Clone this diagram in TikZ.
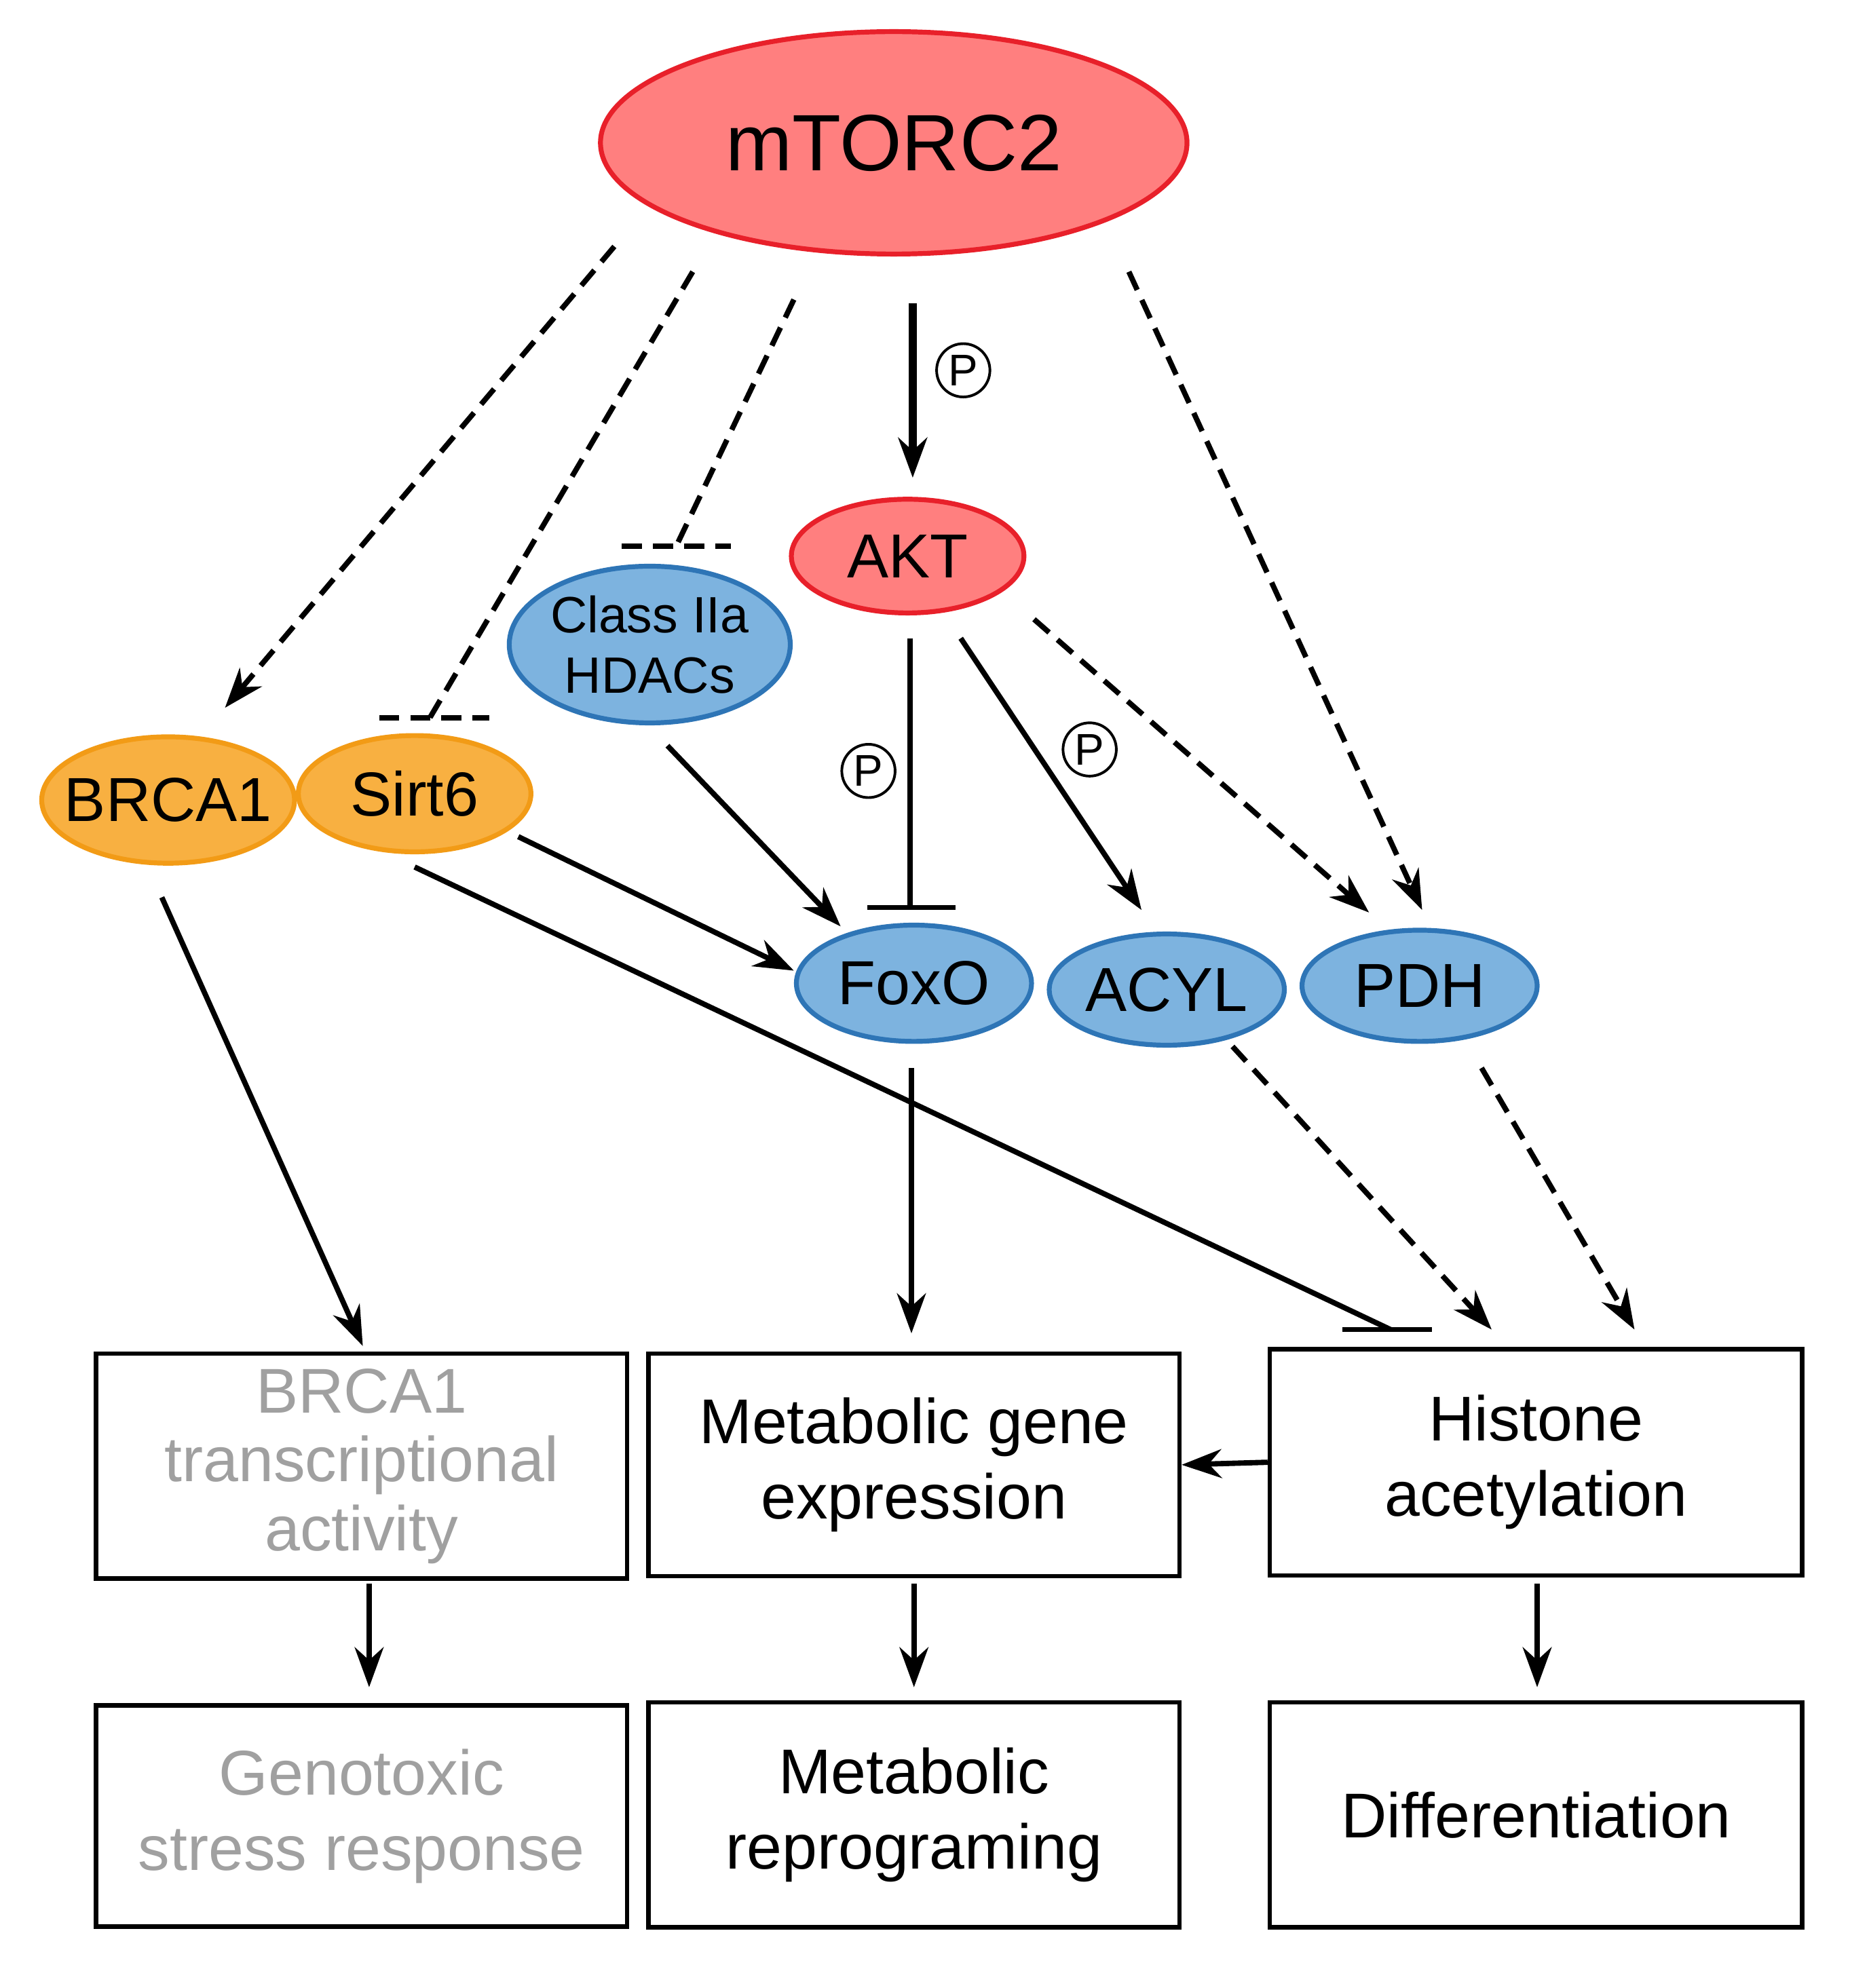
\documentclass[tikz,border=0pt]{standalone}
\usepackage{fontspec}
\setmainfont{Liberation Sans}
\usetikzlibrary{arrows.meta,shapes.geometric}
\definecolor{rfill}{HTML}{FF7F7F}\definecolor{rline}{HTML}{E8202A}
\definecolor{bfill}{HTML}{7DB3DF}\definecolor{bline}{HTML}{2E75B6}
\definecolor{ofill}{HTML}{F8B041}\definecolor{oline}{HTML}{F29B16}
\definecolor{gtxt}{HTML}{A0A0A0}
\begin{document}
\begin{tikzpicture}[x=0.02cm,y=-0.02cm,
 el/.style={ellipse,draw,line width=2.2pt,inner sep=0pt,font=\fontsize{28}{32}\selectfont},
 red/.style={el,fill=rfill,draw=rline},
 blu/.style={el,fill=bfill,draw=bline},
 ora/.style={el,fill=ofill,draw=oline},
 box/.style={draw,line width=2pt,align=center,font=\fontsize{28.5}{34}\selectfont},
 act/.style={line width=2.4pt,-{Stealth[length=18pt,width=13pt]}},
 dact/.style={act,dash pattern=on 9pt off 5pt},
 bar/.style={line width=2.4pt},
 ph/.style={circle,draw,line width=1.2pt,inner sep=1pt,minimum size=24pt,font=\fontsize{20}{20}\selectfont}]
\useasboundingbox (0,0) rectangle (1463,1573);
\node[red,minimum width=464*0.02cm,minimum height=176*0.02cm,font=\fontsize{36}{40}\selectfont] (mt) at (707,113) {mTORC2};
\node[red,minimum width=184*0.02cm,minimum height=90*0.02cm] (akt) at (718,440) {AKT};
\node[blu,minimum width=216*0.02cm,minimum height=124*0.02cm,align=center,font=\fontsize{23}{27}\selectfont] (hd) at (514,510) {Class IIa\\HDACs};
\node[ora,inner xsep=-12pt,minimum width=200*0.02cm,minimum height=100*0.02cm] (br) at (133,633) {BRCA1};
\node[ora,minimum width=184*0.02cm,minimum height=92*0.02cm] (si) at (328,628) {Sirt6};
\node[blu,minimum width=186*0.02cm,minimum height=92*0.02cm] (fo) at (723,778) {FoxO};
\node[blu,minimum width=186*0.02cm,minimum height=88*0.02cm] (ac) at (923,783) {ACYL};
\node[blu,minimum width=186*0.02cm,minimum height=88*0.02cm] (pd) at (1123,780) {PDH};
\node[box,font=\fontsize{28.5}{31}\selectfont,minimum width=420*0.02cm,minimum height=178*0.02cm,text=gtxt] (b1) at (286,1160) {BRCA1\\transcriptional\\activity};
\node[box,minimum width=420*0.02cm,minimum height=176*0.02cm] (b2) at (723,1159) {Metabolic gene\\expression};
\node[box,minimum width=421*0.02cm,minimum height=179*0.02cm] (b3) at (1215,1157) {Histone\\acetylation};
\node[box,minimum width=420*0.02cm,minimum height=175*0.02cm,text=gtxt] (c1) at (286,1437) {Genotoxic\\stress response};
\node[box,minimum width=420*0.02cm,minimum height=178*0.02cm] (c2) at (723,1436) {Metabolic\\reprograming};
\node[box,minimum width=421*0.02cm,minimum height=178*0.02cm] (c3) at (1215,1436) {Differentiation};
\node[ph] (p1) at (762,293) {P};
\node[ph] (p2) at (687,610) {P};
\node[ph] (p3) at (862,593) {P};
% connectors
\draw[dact] (486,195) -- (178,560);
\draw[bar,dash pattern=on 9pt off 5pt] (548,215) -- (340,568);
\draw[bar,dash pattern=on 9pt off 5pt] (300,568) -- (387,568);
\draw[bar,dash pattern=on 9pt off 5pt] (628,237) -- (535,432);
\draw[bar,dash pattern=on 9pt off 5pt] (492,432) -- (578,432);
\draw[act,line width=3.5pt] (722,240) -- (722,378);
\draw[dact] (893,215) -- (1125,720);
\draw[bar] (720,505) -- (720,718); \draw[bar] (686,718) -- (756,718);
\draw[act] (760,505) -- (903,720);
\draw[dact] (818,490) -- (1083,722);
\draw[act] (528,590) -- (665,733);
\draw[act] (410,662) -- (628,768);
\draw[bar] (328,686) -- (1100,1052); \draw[bar] (1062,1052) -- (1133,1052);
\draw[act] (128,710) -- (287,1065);
\draw[act] (721,845) -- (721,1055);
\draw[dact] (975,828) -- (1180,1052);
\draw[dact] (1172,845) -- (1293,1052);
\draw[act] (b3.west) -- (b2.east);
\draw[act] (292,1253) -- (292,1335);
\draw[act] (723,1253) -- (723,1335);
\draw[act] (1216,1253) -- (1216,1335);
\end{tikzpicture}
\end{document}
